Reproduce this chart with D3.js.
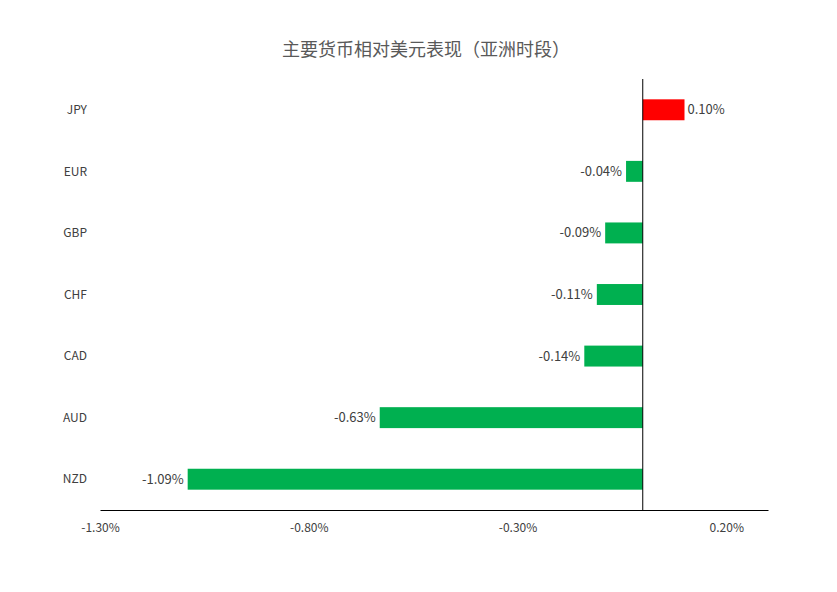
<!DOCTYPE html>
<html><head><meta charset="utf-8">
<script src="https://cdn.jsdelivr.net/npm/d3@7"></script>
<style>body{margin:0;background:#fff}</style>
</head><body>
<svg id="chart" width="837" height="592"></svg>
<script>
const categories = ["JPY", "EUR", "GBP", "CHF", "CAD", "AUD", "NZD"]
const values = [0.10, -0.04, -0.09, -0.11, -0.14, -0.63, -1.09]
const tickValues = [-1.3, -0.8, -0.3, 0.2]

const margin = {top: 79, left: 100, right: 69, bottom: 82}
const width = 837, height = 592
const font = "Microsoft YaHei, Noto Sans CJK SC, sans-serif"

const svg = d3.select("#chart")

const x = d3.scaleLinear().domain([-1.3, 0.3]).range([margin.left, width - margin.right])
const y = d3.scaleBand().domain(categories).range([margin.top, height - margin.bottom]).paddingInner(0.66).paddingOuter(0.33)

svg.append("text")
  .attr("x", 426).attr("y", 56)
  .attr("text-anchor", "middle")
  .attr("font-family", font)
  .attr("font-size", 18)
  .attr("fill", "#595959")
  .text("主要货币相对美元表现（亚洲时段）")

svg.append("g")
  .selectAll("rect")
  .data(values)
  .join("rect")
  .attr("x", d => x(Math.min(0, d)))
  .attr("width", d => Math.abs(x(d) - x(0)))
  .attr("y", (d, i) => y(categories[i]))
  .attr("height", y.bandwidth())
  .attr("fill", d => d > 0 ? "#ff0000" : "#00b050")

svg.append("g")
  .selectAll("text")
  .data(values)
  .join("text")
  .attr("x", d => d > 0 ? x(d) + 3 : x(d) - 4)
  .attr("y", (d, i) => y(categories[i]) + y.bandwidth() / 2)
  .attr("dy", "0.35em")
  .attr("text-anchor", d => d > 0 ? "start" : "end")
  .attr("font-family", font)
  .attr("font-size", 13)
  .attr("fill", "#404040")
  .text(d => d.toFixed(2) + "%")

// category labels
svg.append("g")
  .selectAll("text")
  .data(categories)
  .join("text")
  .attr("x", 87)
  .attr("y", d => y(d) + y.bandwidth() / 2)
  .attr("dy", "0.35em")
  .attr("text-anchor", "end")
  .attr("font-family", font)
  .attr("font-size", 12)
  .attr("fill", "#404040")
  .text(d => d)

// zero line
svg.append("line")
  .attr("x1", x(0)).attr("x2", x(0))
  .attr("y1", margin.top).attr("y2", height - margin.bottom)
  .attr("stroke", "#000").attr("stroke-width", 1)

// x axis
const axis = svg.append("g")
  .attr("transform", `translate(0,${height - margin.bottom})`)
  .call(d3.axisBottom(x).tickValues(tickValues).tickSize(0).tickPadding(13).tickFormat(d => d.toFixed(2) + "%"))
axis.select(".domain").attr("stroke", "#000")
axis.selectAll("text").attr("font-family", font).attr("font-size", 12).attr("fill", "#404040")
</script>
</body></html>
